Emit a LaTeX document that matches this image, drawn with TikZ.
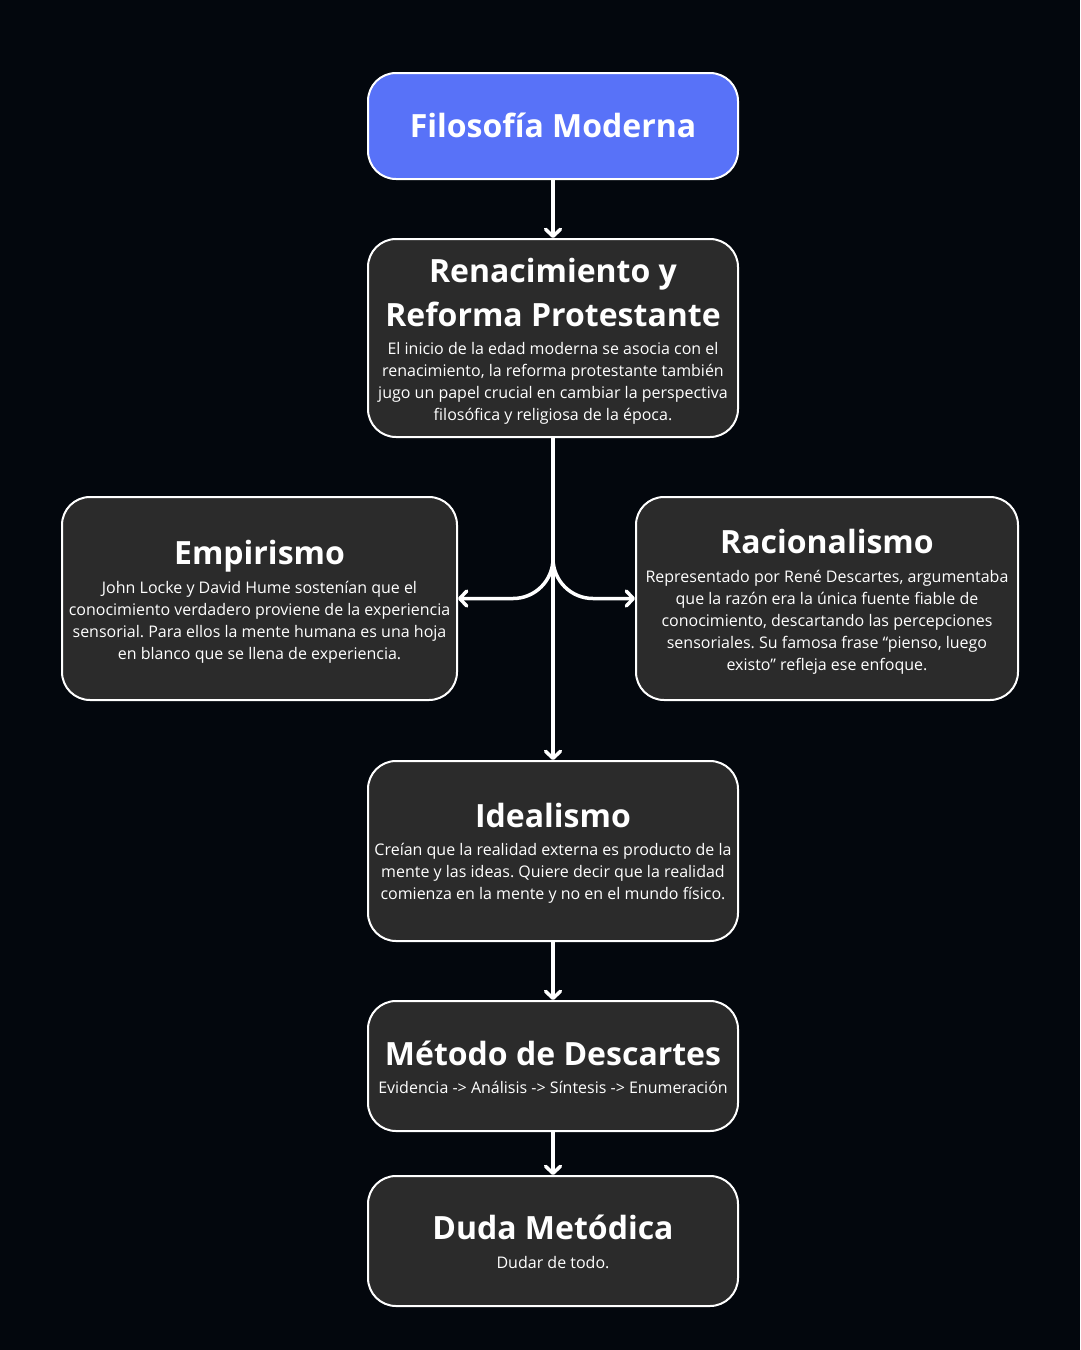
\documentclass[tikz,border=0pt]{standalone}
\usepackage{fontspec}
\setmainfont{Open Sans}
\usetikzlibrary{arrows.meta}
\frenchspacing
\definecolor{bg}{HTML}{03070D}
\definecolor{boxblue}{HTML}{5872F8}
\definecolor{boxdark}{HTML}{2B2B2B}
\tikzset{
  box/.style={draw=white, line width=2pt, rounded corners=28pt, fill=boxdark, inner sep=0pt},
  ttl/.style={text=white, font=\fontsize{32}{44}\selectfont\bfseries, align=center, anchor=base, inner sep=0pt},
  bod/.style={text=white, font=\fontsize{16}{22}\selectfont, align=center, anchor=base, inner sep=0pt},
  conn/.style={draw=white, line width=3.5pt, -{Straight Barb[length=7pt,width=15pt,line cap=round,line join=round]}},
}
\begin{document}
\begin{tikzpicture}[x=1pt,y=-1pt]
\fill[bg] (0,0) rectangle (1080,1350);
\useasboundingbox (0,0) rectangle (1080,1350);
% boxes
\node[box, fill=boxblue, minimum width=370pt, minimum height=106pt] (fm) at (553,126) {};
\node[box, minimum width=370pt, minimum height=198pt] (ren) at (553,338) {};
\node[box, minimum width=395pt, minimum height=203pt] (emp) at (259.5,598.5) {};
\node[box, minimum width=382pt, minimum height=203pt] (rac) at (827,598.5) {};
\node[box, minimum width=370pt, minimum height=180pt] (ide) at (553,851) {};
\node[box, minimum width=370pt, minimum height=130pt] (met) at (553,1066) {};
\node[box, minimum width=370pt, minimum height=130pt] (dud) at (553,1241) {};
% texts (anchor=base is the baseline of the last line)
\node[ttl] (fmt) at (553,137) {Filosofía Moderna};
\node[ttl] (rent) at (553,326) {Renacimiento y\\Reforma Protestante};
\node[bod] (renb) at (553,420) {El inicio de la edad moderna se asocia con el\\renacimiento, la reforma protestante también\\jugo un papel crucial en cambiar la perspectiva\\filosófica y religiosa de la época.};
\node[ttl] (empt) at (259.5,564) {Empirismo};
\node[bod] (empb) at (259.5,659) {John Locke y David Hume sostenían que el\\conocimiento verdadero proviene de la experiencia\\sensorial. Para ellos la mente humana es una hoja\\en blanco que se llena de experiencia.};
\node[ttl] (ract) at (827,553) {Racionalismo};
\node[bod] (racb) at (827,670) {Representado por René Descartes, argumentaba\\que la razón era la única fuente fiable de\\conocimiento, descartando las percepciones\\sensoriales. Su famosa frase “pienso, luego\\existo” refleja ese enfoque.};
\node[ttl] (idet) at (553,827) {Idealismo};
\node[bod] (ideb) at (553,899) {Creían que la realidad externa es producto de la\\mente y las ideas. Quiere decir que la realidad\\comienza en la mente y no en el mundo físico.};
\node[ttl] (mett) at (553,1065) {Método de Descartes};
\node[bod] (metb) at (553,1093) {Evidencia -> Análisis -> Síntesis -> Enumeración};
\node[ttl] (dudt) at (553,1239) {Duda Metódica};
\node[bod] (dudb) at (553,1268) {Dudar de todo.};
% connectors
\coordinate (split) at (553,540);
\draw[conn] (fm.south) -- (ren.north);
\draw[conn] (ren.south) -- (ide.north);
\draw[conn, rounded corners=40pt] (split) |- (emp.east);
\draw[conn, rounded corners=40pt] (split) |- (rac.west);
\draw[conn] (ide.south) -- (met.north);
\draw[conn] (met.south) -- (dud.north);
\end{tikzpicture}
\end{document}
